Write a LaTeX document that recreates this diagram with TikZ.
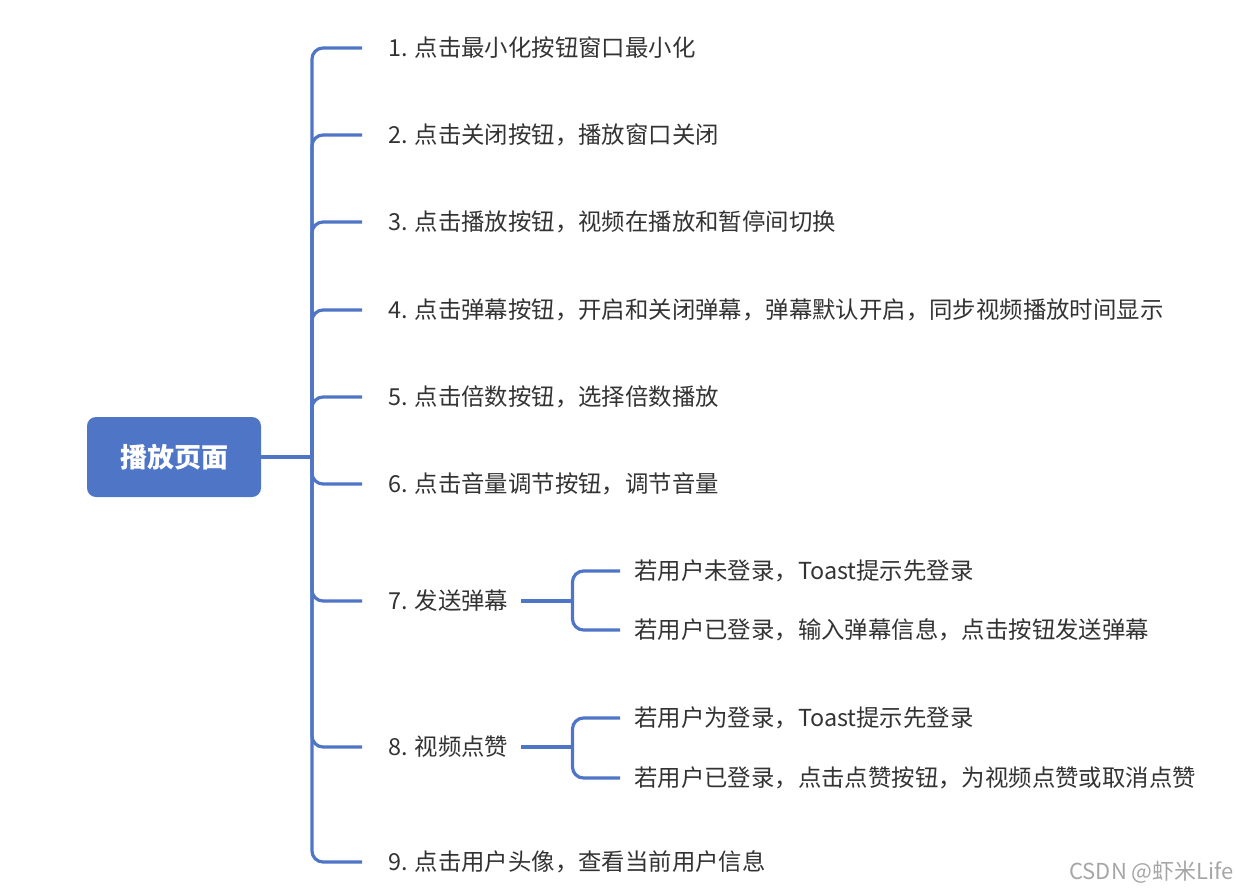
\documentclass[tikz,border=0pt]{standalone}
\usepackage{fontspec}
\setmainfont{Noto Sans CJK SC}
\usetikzlibrary{positioning}
\definecolor{mapblue}{HTML}{4F75C6}
\definecolor{maptext}{HTML}{333333}
\tikzset{
  topic/.style={rounded corners=9pt, fill=mapblue, text=white, inner sep=0pt,
    font=\fontsize{27}{27}\selectfont\bfseries, minimum width=174pt, minimum height=80pt},
  item/.style={anchor=west, inner sep=0pt, text=maptext, font=\fontsize{23.4}{24}\selectfont},
  link/.style={draw=mapblue, line width=3.2pt, rounded corners=11pt},
}

\begin{document}
\begin{tikzpicture}[x=1pt,y=-1pt]
    \useasboundingbox (0,0) rectangle (1236,891);
    % root and first level
    \node[topic] (P) at (174,457) {播放页面};
    \coordinate (J) at (312,457);
    \node[item] (B1) at (388,48) {1. 点击最小化按钮窗口最小化};
    \node[item] (B2) at (388,135) {2. 点击关闭按钮，播放窗口关闭};
    \node[item] (B3) at (388,222) {3. 点击播放按钮，视频在播放和暂停间切换};
    \node[item] (B4) at (388,310) {4. 点击弹幕按钮，开启和关闭弹幕，弹幕默认开启，同步视频播放时间显示};
    \node[item] (B5) at (388,397) {5. 点击倍数按钮，选择倍数播放};
    \node[item] (B6) at (388,484) {6. 点击音量调节按钮，调节音量};
    \node[item] (B7) at (388,601) {7. 发送弹幕};
    \node[item] (B8) at (388,747) {8. 视频点赞};
    \node[item] (B9) at (388,862) {9. 点击用户头像，查看当前用户信息};
    % second level
    \node[item] (C1) at (634,571) {若用户未登录，Toast提示先登录};
    \node[item] (C2) at (634,630) {若用户已登录，输入弹幕信息，点击按钮发送弹幕};
    \node[item] (C3) at (634,718) {若用户为登录，Toast提示先登录};
    \node[item] (C4) at (634,778) {若用户已登录，点击点赞按钮，为视频点赞或取消点赞};
    \node[anchor=east, inner sep=0pt, text=black!35, font=\fontsize{22}{22}\selectfont] (W) at (1234,872) {CSDN @虾米Life};

    \draw[link] (P.east) -- (J);
    \draw[link] (J) |- ([xshift=-26pt]B1.west);
    \draw[link] (J) |- ([xshift=-26pt]B2.west);
    \draw[link] (J) |- ([xshift=-26pt]B3.west);
    \draw[link] (J) |- ([xshift=-26pt]B4.west);
    \draw[link] (J) |- ([xshift=-26pt]B5.west);
    \draw[link] (J) |- ([xshift=-26pt]B6.west);
    \draw[link] (J) |- ([xshift=-26pt]B7.west);
    \draw[link] (J) |- ([xshift=-26pt]B8.west);
    \draw[link] (J) |- ([xshift=-26pt]B9.west);

    \draw[link] ([xshift=13pt]B7.east) -- ++(51,0) coordinate (J7);
    \draw[link] (J7) |- ([xshift=-14pt]C1.west);
    \draw[link] (J7) |- ([xshift=-14pt]C2.west);
    \draw[link] ([xshift=13pt]B8.east) -- ++(51,0) coordinate (J8);
    \draw[link] (J8) |- ([xshift=-14pt]C3.west);
    \draw[link] (J8) |- ([xshift=-14pt]C4.west);
\end{tikzpicture}
\end{document}
